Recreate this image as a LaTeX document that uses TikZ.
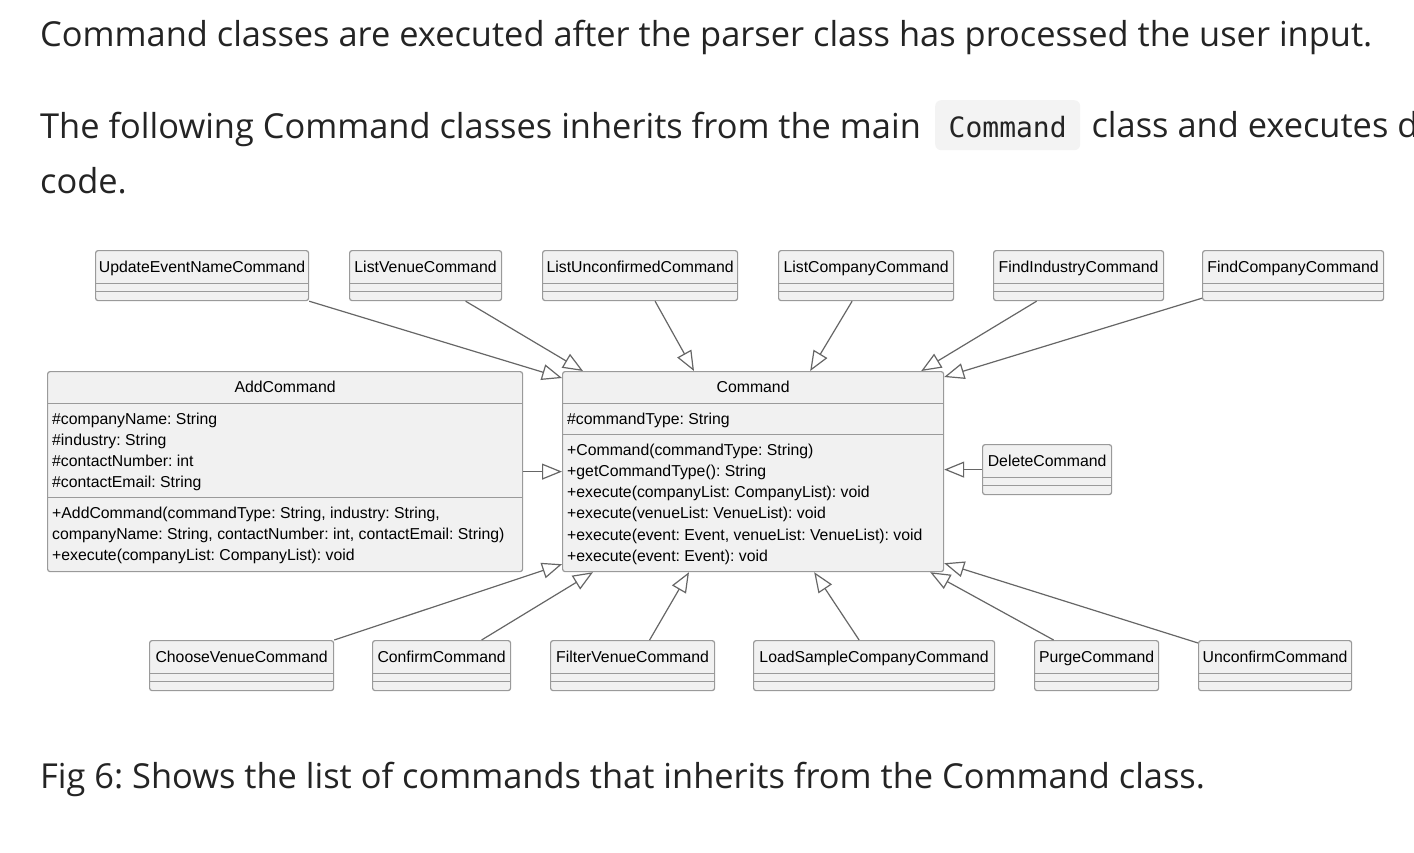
\documentclass[tikz,border=0pt]{standalone}
\usepackage{fontspec}
\setmainfont{Open Sans}
\newfontfamily\umlfam{Liberation Sans}
\newfontfamily\codefam{DejaVu Sans Mono}
\usepackage{xcolor}
\usepackage{tikz}
\usetikzlibrary{arrows.meta,calc,positioning}
\frenchspacing

\definecolor{umlfill}{HTML}{F1F1F1}
\definecolor{umlline}{HTML}{9A9A9A}
\definecolor{umlarrow}{HTML}{666666}
\definecolor{codebg}{HTML}{F3F3F3}
\definecolor{bodytext}{HTML}{242424}

\newcommand{\umlfont}{\umlfam\fontsize{15.8}{21.3}\selectfont}
\newcommand{\bodyfont}{\fontsize{34.4}{41}\selectfont}
\newcommand{\codefont}{\codefam\fontsize{28}{34}\selectfont}

\tikzset{
  cls/.style={draw=umlline, fill=umlfill, line width=1.2, rounded corners=2.5,
    inner sep=0, anchor=north west, font=\umlfont},
  sepline/.style={draw=umlline, line width=1.2},
  simplecls/.style={cls, minimum width=#1, text height=22, text depth=28,
    path picture={
      \draw[sepline] ([yshift=-33]path picture bounding box.north west) -- ([yshift=-33]path picture bounding box.north east);
      \draw[sepline] ([yshift=-41]path picture bounding box.north west) -- ([yshift=-41]path picture bounding box.north east);}},
  bigcls/.style 2 args={cls, minimum width=#1, text height=21, text depth=179,
    path picture={
      \draw[sepline] ([yshift=-32]path picture bounding box.north west) -- ([yshift=-32]path picture bounding box.north east);
      \draw[sepline] ([yshift=-#2]path picture bounding box.north west) -- ([yshift=-#2]path picture bounding box.north east);}},
  members/.style={font=\umlfont, inner sep=0, anchor=base west},
  gen/.style={draw=umlarrow, line width=1.2, -{Triangle[open, length=20, width=16]}},
  body/.style={font=\bodyfont, text=bodytext, inner sep=0, anchor=base west},
  codeword/.style={font=\codefont, text=bodytext, fill=codebg, rounded corners=6,
    inner sep=0, minimum width=145, text height=37, text depth=13, anchor=north west}
}

\begin{document}
\begin{tikzpicture}[x=1pt, y=-1pt]
  \path[use as bounding box, clip] (0,0) rectangle (1414,852);
  \fill[white] (0,0) rectangle (1414,852);

  % Text above the figure
  \node[body] (intro) at (40,46) {Command classes are executed after the parser class has processed the user input.};
  \node[body] (follow) at (40,138) {The following Command classes inherits from the main};
  \node[codeword] (cmdcode) at (935,100) {Command};
  \node[body] (followrest) at ([xshift=11]cmdcode.base east) {class and executes d};
  \node[body] (codeline) at (40,193) {code.};

  % Top row of command classes
  \node[simplecls=213] (upd) at (95,250) {UpdateEventNameCommand};
  \node[simplecls=152] (lven) at (349,250) {ListVenueCommand};
  \node[simplecls=195] (lunc) at (542,250) {ListUnconfirmedCommand};
  \node[simplecls=175] (lcom) at (778,250) {ListCompanyCommand};
  \node[simplecls=170] (find) at (993,250) {FindIndustryCommand};
  \node[simplecls=181] (fcom) at (1202,250) {FindCompanyCommand};

  % AddCommand class
  \node[bigcls={475}{126}] (add) at (47,371) {AddCommand};
  \node[members] (addattrs) at ([xshift=5,yshift=-53]add.north west)
    {\begin{tabular}[t]{@{}l@{}}\#companyName: String\\ \#industry: String\\ \#contactNumber: int\\ \#contactEmail: String\end{tabular}};
  \node[members] (addops) at ([xshift=5,yshift=-147]add.north west)
    {\begin{tabular}[t]{@{}l@{}}+AddCommand(commandType: String, industry: String,\\ companyName: String, contactNumber: int, contactEmail: String)\\ +execute(companyList: CompanyList): void\end{tabular}};

  % Command class
  \node[bigcls={381}{63}] (cmd) at (562,371) {Command};
  \node[members] (cmdattrs) at ([xshift=5,yshift=-53]cmd.north west) {\#commandType: String};
  \node[members] (cmdops) at ([xshift=5,yshift=-84]cmd.north west)
    {\begin{tabular}[t]{@{}l@{}}+Command(commandType: String)\\ +getCommandType(): String\\ +execute(companyList: CompanyList): void\\ +execute(venueList: VenueList): void\\ +execute(event: Event, venueList: VenueList): void\\ +execute(event: Event): void\end{tabular}};

  % DeleteCommand class
  \node[simplecls=129] (del) at (982,444) {DeleteCommand};

  % Bottom row of command classes
  \node[simplecls=184] (choose) at (149,640) {ChooseVenueCommand};
  \node[simplecls=138] (conf) at (372,640) {ConfirmCommand};
  \node[simplecls=164] (filt) at (550,640) {FilterVenueCommand};
  \node[simplecls=241] (load) at (753,640) {LoadSampleCompanyCommand};
  \node[simplecls=124] (purge) at (1034,640) {PurgeCommand};
  \node[simplecls=153] (unconf) at (1198,640) {UnconfirmCommand};

  % Inheritance arrows from the top row
  \draw[gen] (upd.south east) -- ([yshift=-7]cmd.north west);
  \draw[gen] ([xshift=40]lven.south) -- ([xshift=21]cmd.north west);
  \draw[gen] ([xshift=15]lunc.south) -- ([xshift=132]cmd.north west);
  \draw[gen] ([xshift=-14]lcom.south) -- ([xshift=-134]cmd.north east);
  \draw[gen] ([xshift=-42]find.south) -- ([xshift=-23]cmd.north east);
  \draw[gen] ([yshift=3]fcom.south west) -- ([yshift=-6]cmd.north east);

  % Inheritance arrows from the sides
  \draw[gen] (add.east) -- (cmd.west);
  \draw[gen] (del.west) -- (del.west -| cmd.east);

  % Inheritance arrows from the bottom row
  \draw[gen] (choose.north east) -- ([yshift=8]cmd.south west);
  \draw[gen] ([xshift=40]conf.north) -- ([xshift=31]cmd.south west);
  \draw[gen] ([xshift=17]filt.north) -- ([xshift=127]cmd.south west);
  \draw[gen] ([xshift=-15]load.north) -- ([xshift=-130]cmd.south east);
  \draw[gen] ([xshift=-43]purge.north) -- ([xshift=-14]cmd.south east);
  \draw[gen] ([yshift=-3]unconf.north west) -- ([yshift=9]cmd.south east);

  % Caption
  \node[body] (caption) at (40,788) {Fig 6: Shows the list of commands that inherits from the Command class.};
\end{tikzpicture}
\end{document}
